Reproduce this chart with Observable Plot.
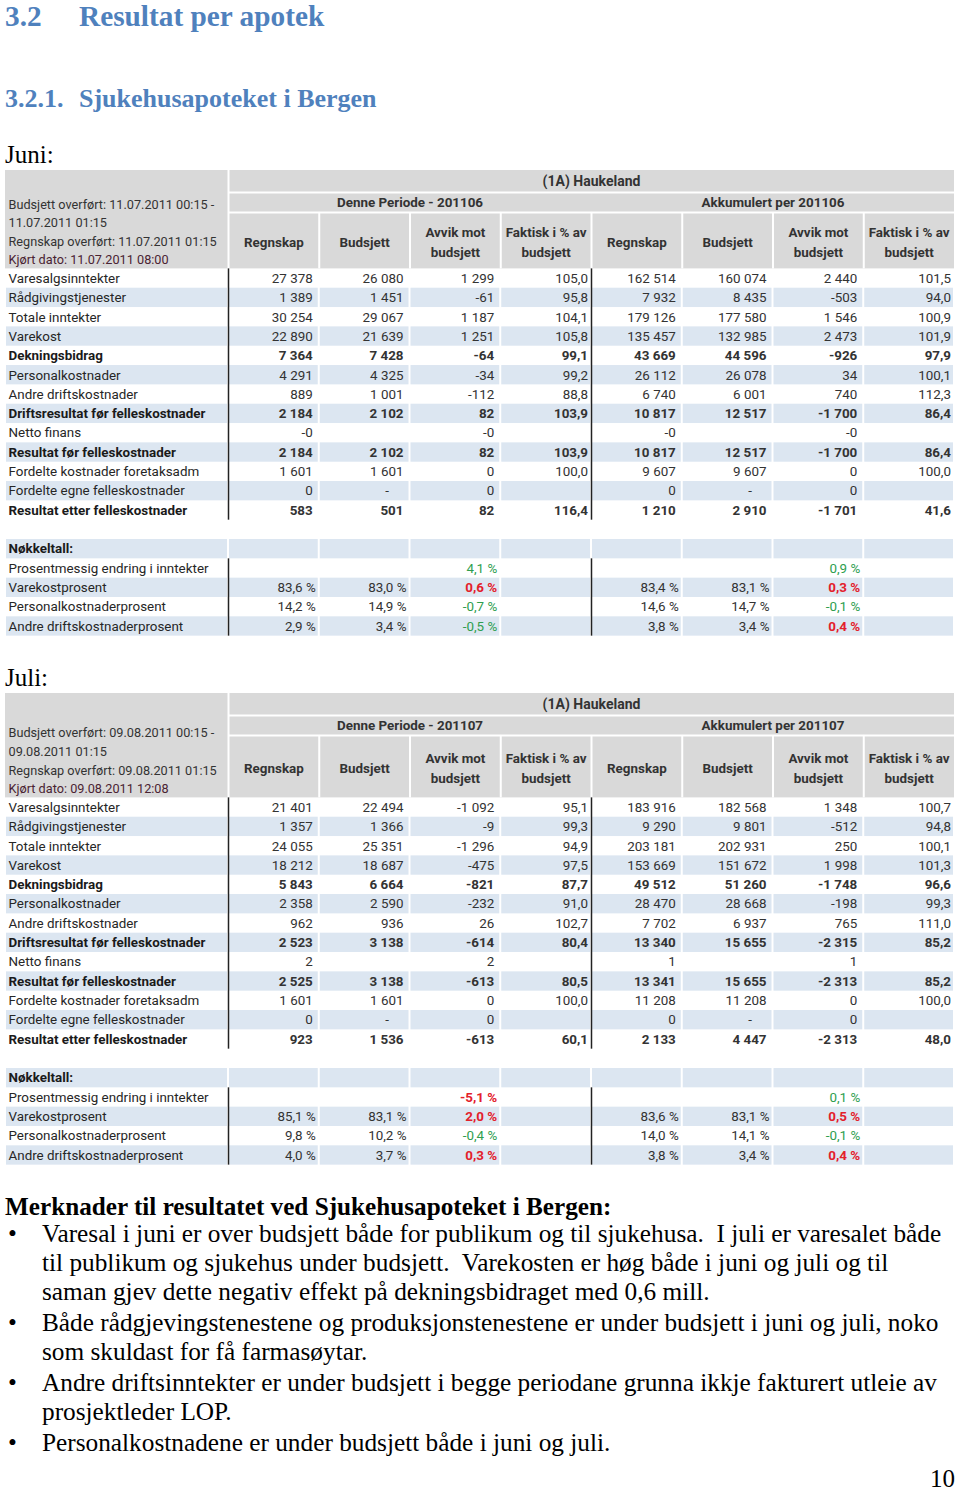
<!DOCTYPE html>
<html><head><meta charset="utf-8">
<script src="https://cdn.jsdelivr.net/npm/d3@7"></script>
<script src="https://cdn.jsdelivr.net/npm/@observablehq/plot@0.6"></script>
<style>
body{margin:0;background:#fff;}
#page{position:relative;width:960px;height:1491px;overflow:hidden;font-family:"Liberation Serif","Times New Roman",serif;color:#000;background:#fff;}
.t{position:absolute;white-space:pre;}
.blue{color:#4f81bd;font-weight:bold;}
.tbl{position:absolute;left:0;}
</style></head><body><div id="page"></div>
<script>
// ---------------- data ----------------
const sectionTitle = ["3.2", "Resultat per apotek"];
const subTitle = ["3.2.1.", "Sjukehusapoteket i Bergen"];
const unitName = "(1A) Haukeland";
const rowLabels = ["Varesalgsinntekter","Rådgivingstjenester","Totale inntekter","Varekost","Dekningsbidrag","Personalkostnader","Andre driftskostnader","Driftsresultat før felleskostnader","Netto finans","Resultat før felleskostnader","Fordelte kostnader foretaksadm","Fordelte egne felleskostnader","Resultat etter felleskostnader"];
const boldRows = ["Dekningsbidrag","Driftsresultat før felleskostnader","Resultat før felleskostnader","Resultat etter felleskostnader"];
const keyTitle = "Nøkkeltall:";
const keyLabels = ["Prosentmessig endring i inntekter","Varekostprosent","Personalkostnaderprosent","Andre driftskostnaderprosent"];
const colHeaders = ["Regnskap","Budsjett","Avvik mot\nbudsjett","Faktisk i % av\nbudsjett"];

// Juni — columns: Regnskap, Budsjett, Avvik mot budsjett, Faktisk i % av budsjett
const juniInfo = ["Budsjett overført: 11.07.2011 00:15 -","11.07.2011 01:15","Regnskap overført: 11.07.2011 01:15","Kjørt dato: 11.07.2011 08:00"];
const juniPeriod = "201106";
const juniPeriode = [
 [27378, 26080, 1299, 105.0],
 [1389, 1451, -61, 95.8],
 [30254, 29067, 1187, 104.1],
 [22890, 21639, 1251, 105.8],
 [7364, 7428, -64, 99.1],
 [4291, 4325, -34, 99.2],
 [889, 1001, -112, 88.8],
 [2184, 2102, 82, 103.9],
 [-0, null, -0, null],
 [2184, 2102, 82, 103.9],
 [1601, 1601, 0, 100.0],
 [0, "-", 0, null],
 [583, 501, 82, 116.4]
];
const juniAkkumulert = [
 [162514, 160074, 2440, 101.5],
 [7932, 8435, -503, 94.0],
 [179126, 177580, 1546, 100.9],
 [135457, 132985, 2473, 101.9],
 [43669, 44596, -926, 97.9],
 [26112, 26078, 34, 100.1],
 [6740, 6001, 740, 112.3],
 [10817, 12517, -1700, 86.4],
 [-0, null, -0, null],
 [10817, 12517, -1700, 86.4],
 [9607, 9607, 0, 100.0],
 [0, "-", 0, null],
 [1210, 2910, -1701, 41.6]
];
// Nøkkeltall (%): Regnskap, Budsjett, Avvik
const juniNokkelPeriode = [[null, null, 4.1], [83.6, 83.0, 0.6], [14.2, 14.9, -0.7], [2.9, 3.4, -0.5]];
const juniNokkelAkk = [[null, null, 0.9], [83.4, 83.1, 0.3], [14.6, 14.7, -0.1], [3.8, 3.4, 0.4]];

// Juli
const juliInfo = ["Budsjett overført: 09.08.2011 00:15 -","09.08.2011 01:15","Regnskap overført: 09.08.2011 01:15","Kjørt dato: 09.08.2011 12:08"];
const juliPeriod = "201107";
const juliPeriode = [
 [21401, 22494, -1092, 95.1],
 [1357, 1366, -9, 99.3],
 [24055, 25351, -1296, 94.9],
 [18212, 18687, -475, 97.5],
 [5843, 6664, -821, 87.7],
 [2358, 2590, -232, 91.0],
 [962, 936, 26, 102.7],
 [2523, 3138, -614, 80.4],
 [2, null, 2, null],
 [2525, 3138, -613, 80.5],
 [1601, 1601, 0, 100.0],
 [0, "-", 0, null],
 [923, 1536, -613, 60.1]
];
const juliAkkumulert = [
 [183916, 182568, 1348, 100.7],
 [9290, 9801, -512, 94.8],
 [203181, 202931, 250, 100.1],
 [153669, 151672, 1998, 101.3],
 [49512, 51260, -1748, 96.6],
 [28470, 28668, -198, 99.3],
 [7702, 6937, 765, 111.0],
 [13340, 15655, -2315, 85.2],
 [1, null, 1, null],
 [13341, 15655, -2313, 85.2],
 [11208, 11208, 0, 100.0],
 [0, "-", 0, null],
 [2133, 4447, -2313, 48.0]
];
const juliNokkelPeriode = [[null, null, -5.1], [85.1, 83.1, 2.0], [9.8, 10.2, -0.4], [4.0, 3.7, 0.3]];
const juliNokkelAkk = [[null, null, 0.1], [83.6, 83.1, 0.5], [14.0, 14.1, -0.1], [3.8, 3.4, 0.4]];

const notesTitle = "Merknader til resultatet ved Sjukehusapoteket i Bergen:";
const notes = [
 ["Varesal i juni er over budsjett både for publikum og til sjukehusa.  I juli er varesalet både",
  "til publikum og sjukehus under budsjett.  Varekosten er høg både i juni og juli og til",
  "saman gjev dette negativ effekt på dekningsbidraget med 0,6 mill."],
 ["Både rådgjevingstenestene og produksjonstenestene er under budsjett i juni og juli, noko",
  "som skuldast for få farmasøytar."],
 ["Andre driftsinntekter er under budsjett i begge periodane grunna ikkje fakturert utleie av",
  "prosjektleder LOP."],
 ["Personalkostnadene er under budsjett både i juni og juli."]
];
const pageNumber = "10";

// ---------------- formatting ----------------
const NB = "\u00a0";
function fmtInt(v) {
  if (v === null) return "";
  if (typeof v === "string") return v;
  if (Object.is(v, -0)) return "-0";
  const s = String(Math.abs(v)).replace(/\B(?=(\d{3})+(?!\d))/g, NB);
  return (v < 0 ? "-" : "") + s;
}
function fmtDec(v) {
  if (v === null) return "";
  return v.toFixed(1).replace(".", ",");
}
function fmtPct(v) {
  if (v === null) return "";
  return fmtDec(v) + NB + "%";
}

// ---------------- page text ----------------
const page = document.getElementById("page");
function put(text, left, baseline, fs, cls, extra, lh) {
  const d = document.createElement("div");
  d.className = "t " + (cls || "");
  d.textContent = text;
  const L = lh || fs;
  d.style.fontSize = fs + "px";
  d.style.lineHeight = L + "px";
  d.style.left = left + "px";
  d.style.top = (baseline - ((L - 1.107 * fs) / 2 + 0.891 * fs)) + "px";
  if (extra) Object.assign(d.style, extra);
  page.appendChild(d);
  return d;
}
put(sectionTitle[0], 5, 27, 29.3, "blue");
put(sectionTitle[1], 79, 27, 29.3, "blue");
put(subTitle[0], 5, 108, 26, "blue");
put(subTitle[1], 79, 108, 26, "blue");
put("Juni:", 5, 163, 25);
put("Juli:", 5, 686, 25);
put(notesTitle, 5, 1215, 25.2, "", {fontWeight: "bold"});
let bl = 1242;
notes.forEach((p, pi) => {
  if (pi > 0) bl += 2;
  put("\u2022", 8, bl, 25.3);
  p.forEach(line => { put(line, 42, bl, 25.3); bl += 29; });
});
const pn = put(pageNumber, 0, 1487, 25, "", null, 18);
pn.style.left = "auto"; pn.style.right = "5px";

// ---------------- tables ----------------
const ROWPX = 19.33;
const GREEN = "#2f9e4f", RED = "#e3202b", TXT = "#333", BLUE = "#dce6f1", GRAY = "#d9d9d9";

function makeTable(info, period, periode, akk, nokP, nokA, h3) {
  const labelU = 223 / 90.75;
  const h1 = 1.14, h2 = 1.03;
  const hb = h1 + h2 + h3;
  const dataTop = hb, dataBot = hb + rowLabels.length;
  const nTop = dataBot + 1;
  const nBot = nTop + 1 + keyLabels.length;

  // body rows
  const rows = [];
  rowLabels.forEach((label, i) => rows.push({label, y1: dataTop + i, shaded: i % 2 === 1, bold: boldRows.includes(label)}));
  rows.push({label: keyTitle, y1: nTop, shaded: true, bold: true});
  keyLabels.forEach((label, j) => rows.push({label, y1: nTop + 1 + j, shaded: j % 2 === 1, bold: false}));
  rows.forEach(r => { r.y2 = r.y1 + 1; r.yc = r.y1 + 0.5; });

  const cells = [];
  rows.filter(r => r.shaded).forEach(r => {
    for (let c = -1; c < 8; c++) cells.push({x1: c < 0 ? -labelU : c, x2: c < 0 ? 0 : c + 1, y1: r.y1, y2: r.y2});
  });

  // value texts
  const vals = [];
  rowLabels.forEach((label, i) => {
    const bold = boldRows.includes(label);
    const y = dataTop + i + 0.5;
    [periode[i], akk[i]].forEach((arr, half) => {
      arr.forEach((v, k) => {
        if (v === null) return;
        const c = half * 4 + k;
        const isDec = k === 3;
        const text = isDec ? fmtDec(v) : fmtInt(v);
        const dx = v === "-" ? -21 : (isDec ? -3.5 : -6.5);
        vals.push({x: c + 1, y, text, bold, dx, fill: TXT});
      });
    });
  });
  keyLabels.forEach((label, j) => {
    const y = nTop + 1 + j + 0.5;
    [nokP[j], nokA[j]].forEach((arr, half) => {
      arr.forEach((v, k) => {
        if (v === null) return;
        const c = half * 4 + k;
        let fill = TXT, bold = false;
        if (k === 2) {
          const bad = j === 0 ? v < 0 : v > 0;
          fill = bad ? RED : GREEN;
          bold = bad;
        }
        vals.push({x: c + 1, y, text: fmtPct(v), bold, dx: -3.5, fill});
      });
    });
  });

  const valueMarks = [];
  for (const [bold, sub] of d3.groups(vals, d => d.bold)) {
    for (const [dx, arr] of d3.groups(sub, d => d.dx)) {
      valueMarks.push(Plot.text(arr, {x: "x", y: "y", text: "text", fill: "fill", textAnchor: "end", dx, fontWeight: bold ? "bold" : "normal"}));
    }
  }

  const infoLines = info.map((t, k) => ({t, y: hb - 0.44 - (info.length - 1 - k) * 0.965, fill: k === info.length - 1 ? "#4a2332" : TXT}));
  const periodHeads = [{t: "Denne Periode - " + period, x: 2}, {t: "Akkumulert per " + period, x: 6}];
  const colHeads = [...colHeaders, ...colHeaders].map((t, i) => ({t, x: i + 0.5}));

  return Plot.plot({
    width: 960,
    height: Math.ceil(nBot * ROWPX) + 2,
    margin: 0,
    x: {type: "linear", domain: [-labelU, 8], range: [5, 954], axis: null},
    y: {type: "linear", domain: [0, nBot], range: [0, nBot * ROWPX], axis: null},
    color: {type: "identity"},
    style: {fontFamily: "Roboto, 'Open Sans', sans-serif", fontSize: "13.4px", background: "transparent", overflow: "visible"},
    marks: [
      // header background and separators
      Plot.rect([{x1: -labelU, x2: 8, y1: 0, y2: hb}], {x1: "x1", x2: "x2", y1: "y1", y2: "y2", fill: GRAY}),
      Plot.ruleX([0], {y1: 0, y2: hb, stroke: "white", strokeWidth: 2}),
      Plot.ruleY([h1, h1 + h2], {x1: 0, x2: 8, stroke: "white", strokeWidth: 2}),
      Plot.ruleX(d3.range(1, 8), {y1: h1 + h2, y2: hb, stroke: "white", strokeWidth: 2}),
      // shaded body cells
      Plot.rect(cells, {x1: "x1", x2: "x2", y1: "y1", y2: "y2", fill: BLUE, insetLeft: 1, insetRight: 1}),
      // dark column dividers
      Plot.ruleX([0, 4], {y1: dataTop, y2: dataBot, stroke: "#222", strokeWidth: 1.5}),
      Plot.ruleX([0, 4], {y1: nTop + 1, y2: nBot, stroke: "#222", strokeWidth: 1.5}),
      // header texts
      Plot.text([unitName], {x: 4, y: h1 / 2, text: d => d, fontWeight: "bold", fill: TXT, fontSize: 14}),
      Plot.text(periodHeads, {x: "x", y: h1 + h2 / 2, text: "t", fontWeight: "bold", fill: TXT}),
      Plot.text(colHeads, {x: "x", y: h1 + h2 + h3 / 2, text: "t", fontWeight: "bold", fill: TXT, lineHeight: 1.45}),
      Plot.text(infoLines, {x: -labelU, y: "y", text: "t", fill: "fill", textAnchor: "start", dx: 3, fontSize: 12.7}),
      // row labels
      Plot.text(rows.filter(r => !r.bold), {x: -labelU, y: "yc", text: "label", textAnchor: "start", dx: 3, fill: "#262626"}),
      Plot.text(rows.filter(r => r.bold), {x: -labelU, y: "yc", text: "label", textAnchor: "start", dx: 3, fill: "#1a1a1a", fontWeight: "bold"}),
      ...valueMarks
    ]
  });
}

function addTable(svg, top) {
  const wrap = document.createElement("div");
  wrap.className = "tbl";
  wrap.style.top = top + "px";
  wrap.appendChild(svg);
  page.appendChild(wrap);
}
addTable(makeTable(juniInfo, juniPeriod, juniPeriode, juniAkkumulert, juniNokkelPeriode, juniNokkelAkk, 2.92), 170);
addTable(makeTable(juliInfo, juliPeriod, juliPeriode, juliAkkumulert, juliNokkelPeriode, juliNokkelAkk, 3.23), 693);
</script>
</body></html>
